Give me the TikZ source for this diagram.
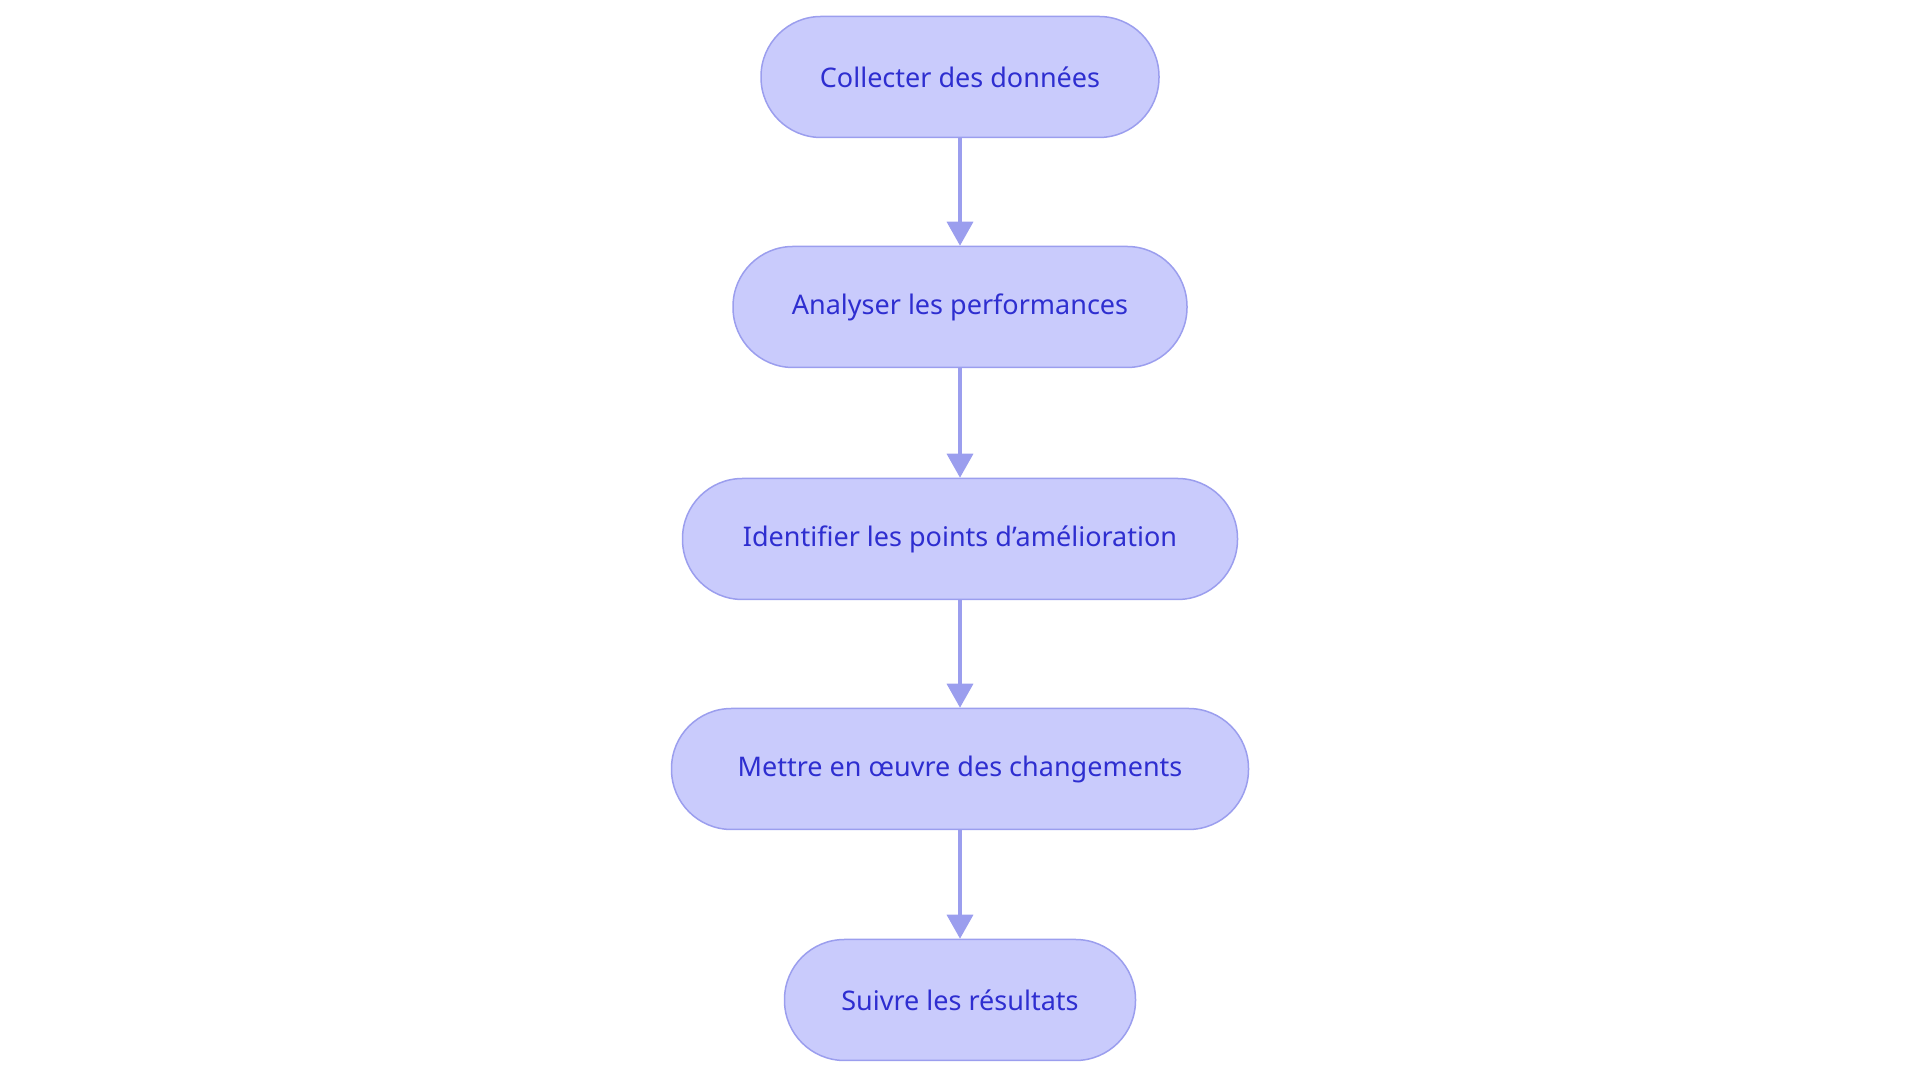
\documentclass[tikz,border=0pt]{standalone}
\usepackage{fontspec}
\setmainfont{Noto Sans}
\usetikzlibrary{arrows.meta}
\definecolor{fillc}{HTML}{C9CBFC}
\definecolor{linec}{HTML}{9B9EEE}
\definecolor{textc}{HTML}{2E2ED0}
\begin{document}
\begin{tikzpicture}[x=1pt,y=1pt,
  box/.style={draw=linec,line width=1.5pt,fill=fillc,rounded corners=60pt,minimum height=121pt,text=textc,font=\fontsize{27}{32}\selectfont},
  arr/.style={draw=linec,line width=3.5pt,-{Triangle[width=26pt,length=24pt]}}]
\useasboundingbox (0,0) rectangle (1920,1083);
\node[box,minimum width=398pt] (a) at (960,1006) {Collecter des données};
\node[box,minimum width=454pt] (b) at (960,776) {Analyser les performances};
\node[box,minimum width=555pt] (c) at (960,544) {Identifier les points d'amélioration};
\node[box,minimum width=577pt] (d) at (960,314) {Mettre en œuvre des changements};
\node[box,minimum width=351pt] (e) at (960,83) {Suivre les résultats};
\draw[arr] (a) -- (b);
\draw[arr] (b) -- (c);
\draw[arr] (c) -- (d);
\draw[arr] (d) -- (e);
\end{tikzpicture}
\end{document}
